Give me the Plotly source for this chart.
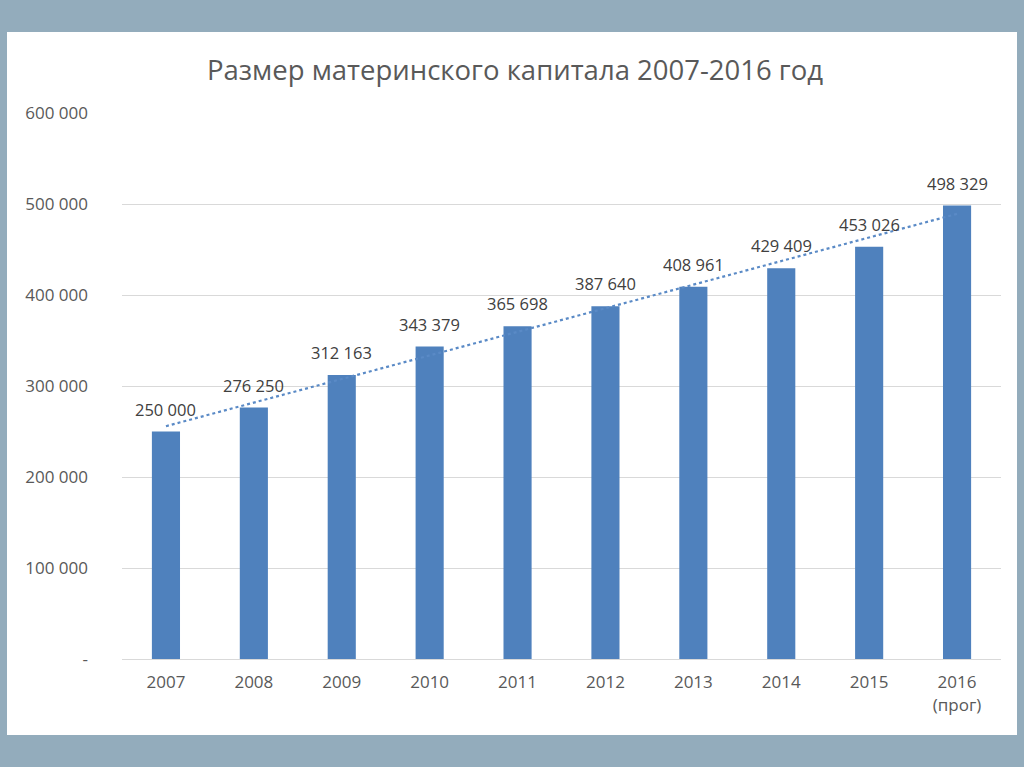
import numpy as np
import plotly.graph_objects as go

years = ["2007", "2008", "2009", "2010", "2011", "2012", "2013", "2014", "2015", "2016<br>(прог)"]
values = [250000, 276250, 312163, 343379, 365698, 387640, 408961, 429409, 453026, 498329]
value_labels = ["250 000", "276 250", "312 163", "343 379", "365 698", "387 640",
                "408 961", "429 409", "453 026", "498 329"]
y_tickvals = [0, 100000, 200000, 300000, 400000, 500000, 600000]
y_ticktext = ["-", "100 000", "200 000", "300 000", "400 000", "500 000", "600 000"]
title = "Размер материнского капитала 2007-2016 год"

FONT = "Open Sans, Noto Sans, DejaVu Sans, sans-serif"

idx = np.arange(len(values))
slope, intercept = np.polyfit(idx, values, 1)
trend = list(slope * idx + intercept)

fig = go.Figure()
fig.add_trace(go.Bar(x=years, y=values, marker=dict(color="#4f81bd", line=dict(width=0)),
                     hoverinfo="skip"))
fig.add_trace(go.Scatter(x=years, y=trend, mode="lines",
                         line=dict(color="#5a8ac6", width=2.2, dash="dot"), hoverinfo="skip"))

for i, (v, lab) in enumerate(zip(values, value_labels)):
    fig.add_annotation(x=i, y=v, text=lab, showarrow=False, yanchor="bottom", yshift=9,
                       font=dict(family=FONT, size=16.5, color="#404040"))

fig.add_shape(type="rect", xref="paper", yref="paper", layer="below",
              x0=(7-122)/879, x1=(1017-122)/879, y0=-(735-659)/546, y1=(659-32)/546,
              fillcolor="white", line=dict(width=0))

fig.update_layout(
    width=1024, height=767,
    margin=dict(l=122, r=23, t=113, b=108),
    paper_bgcolor="#93acbc", plot_bgcolor="rgba(0,0,0,0)",
    showlegend=False,
    bargap=0.68,
    title=dict(text=title, x=515/1024, xref="container", xanchor="center", y=1 - 70/767, yanchor="middle",
               font=dict(family=FONT, size=27.5, color="#595959")),
    font=dict(family=FONT, color="#595959"),
)
fig.update_xaxes(type="category", range=[-0.5, len(years) - 0.5], autorange=False,
                 showgrid=False, showline=True, linecolor="#d9d9d9", linewidth=1,
                 tickfont=dict(family=FONT, size=17, color="#595959"), ticks="", ticklabelstandoff=8)
fig.update_yaxes(range=[0, 600000], tickvals=y_tickvals, ticktext=y_ticktext,
                 showgrid=True, gridcolor="#d9d9d9", gridwidth=1, zeroline=False,
                 tickfont=dict(family=FONT, size=17, color="#595959"), ticks="",
                 ticklabelstandoff=33)

fig.write_html("out.html")
